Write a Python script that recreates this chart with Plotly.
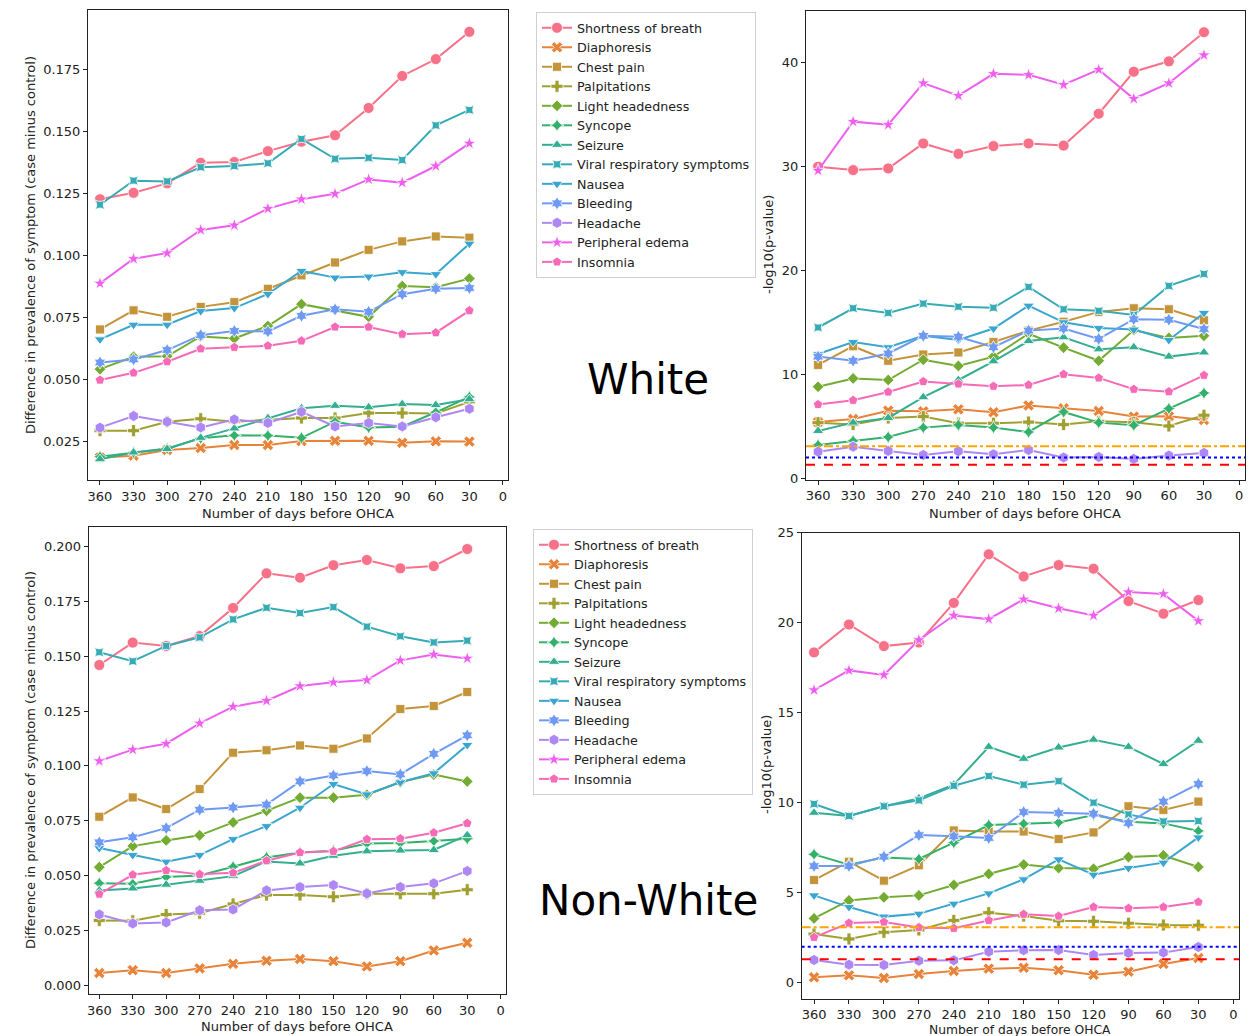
import plotly.graph_objects as go

# Days before the event (x axis)
days = [360, 330, 300, 270, 240, 210, 180, 150, 120, 90, 60, 30]
x_ticks = [360, 330, 300, 270, 240, 210, 180, 150, 120, 90, 60, 30, 0]

symptoms = ["Shortness of breath", "Diaphoresis", "Chest pain", "Palpitations",
            "Light headedness", "Syncope", "Seizure", "Viral respiratory symptoms",
            "Nausea", "Bleeding", "Headache", "Peripheral edema", "Insomnia"]

# ---- White: difference in prevalence (case minus control) ----
w_diff_sob = [0.1225, 0.1251, 0.1289, 0.1372, 0.1375, 0.1419, 0.1457, 0.1483, 0.1593, 0.1722, 0.1790, 0.1900]
w_diff_dia = [0.0184, 0.0191, 0.0214, 0.0222, 0.0234, 0.0234, 0.0250, 0.0251, 0.0251, 0.0243, 0.0249, 0.0248]
w_diff_chest = [0.0700, 0.0777, 0.0751, 0.0791, 0.0810, 0.0864, 0.0918, 0.0970, 0.1021, 0.1055, 0.1075, 0.1070]
w_diff_palp = [0.0292, 0.0292, 0.0328, 0.0340, 0.0328, 0.0335, 0.0343, 0.0343, 0.0363, 0.0363, 0.0361, 0.0408]
w_diff_light = [0.0540, 0.0590, 0.0592, 0.0672, 0.0664, 0.0714, 0.0802, 0.0778, 0.0751, 0.0875, 0.0870, 0.0905]
w_diff_sync = [0.0187, 0.0204, 0.0220, 0.0261, 0.0273, 0.0272, 0.0263, 0.0328, 0.0305, 0.0308, 0.0366, 0.0428]
w_diff_seiz = [0.0177, 0.0204, 0.0218, 0.0263, 0.0301, 0.0342, 0.0382, 0.0392, 0.0386, 0.0399, 0.0395, 0.0419]
w_diff_viral = [0.1203, 0.1300, 0.1297, 0.1354, 0.1359, 0.1370, 0.1468, 0.1388, 0.1392, 0.1383, 0.1523, 0.1585]
w_diff_naus = [0.0660, 0.0719, 0.0719, 0.0774, 0.0786, 0.0843, 0.0936, 0.0909, 0.0913, 0.0931, 0.0923, 0.1046]
w_diff_bleed = [0.0567, 0.0579, 0.0617, 0.0677, 0.0694, 0.0692, 0.0755, 0.0781, 0.0771, 0.0842, 0.0864, 0.0867]
w_diff_head = [0.0304, 0.0351, 0.0328, 0.0305, 0.0337, 0.0323, 0.0368, 0.0309, 0.0323, 0.0309, 0.0346, 0.0380]
w_diff_edema = [0.0886, 0.0985, 0.1008, 0.1101, 0.1120, 0.1187, 0.1225, 0.1247, 0.1305, 0.1292, 0.1359, 0.1450]
w_diff_insom = [0.0496, 0.0525, 0.0570, 0.0622, 0.0628, 0.0634, 0.0654, 0.0710, 0.0710, 0.0681, 0.0687, 0.0776]

# ---- White: -log10(p-value) ----
w_p_sob = [29.96, 29.64, 29.8, 32.2, 31.2, 31.95, 32.2, 32.0, 35.06, 39.1, 40.1, 42.9]
w_p_dia = [5.4, 5.7, 6.5, 6.44, 6.63, 6.35, 7.0, 6.73, 6.47, 5.93, 5.96, 5.6]
w_p_chest = [10.9, 12.7, 11.3, 11.9, 12.1, 13.1, 14.2, 15.06, 16.0, 16.35, 16.25, 15.2]
w_p_palp = [5.35, 5.16, 5.8, 5.93, 5.3, 5.29, 5.4, 5.16, 5.48, 5.38, 5.03, 6.06]
w_p_light = [8.8, 9.6, 9.45, 11.4, 10.8, 11.7, 13.9, 12.56, 11.3, 14.26, 13.5, 13.7]
w_p_sync = [3.2, 3.6, 3.97, 4.87, 5.13, 4.87, 4.45, 6.38, 5.35, 5.1, 6.7, 8.2]
w_p_seiz = [4.55, 5.35, 5.8, 7.8, 9.45, 11.25, 13.2, 13.56, 12.4, 12.6, 11.7, 12.1]
w_p_viral = [14.5, 16.35, 15.9, 16.8, 16.5, 16.4, 18.4, 16.25, 16.1, 15.7, 18.5, 19.65]
w_p_naus = [11.95, 13.1, 12.6, 13.7, 13.3, 14.4, 16.6, 15.0, 14.45, 14.3, 13.3, 15.9]
w_p_bleed = [11.7, 11.3, 12.0, 13.7, 13.6, 12.6, 14.2, 14.4, 13.4, 15.3, 15.25, 14.35]
w_p_head = [2.56, 3.04, 2.63, 2.24, 2.6, 2.3, 2.72, 1.99, 2.05, 1.86, 2.18, 2.44]
w_p_edema = [29.6, 34.3, 34.0, 38.0, 36.8, 38.9, 38.8, 37.85, 39.3, 36.5, 38.0, 40.7]
w_p_insom = [7.1, 7.5, 8.3, 9.3, 9.07, 8.85, 8.97, 10.0, 9.65, 8.56, 8.33, 9.9]

# ---- Non-White: difference in prevalence (case minus control) ----
n_diff_sob = [0.1460, 0.1562, 0.1547, 0.1592, 0.1720, 0.1878, 0.1858, 0.1915, 0.1939, 0.1901, 0.1911, 0.1989]
n_diff_dia = [0.0055, 0.0068, 0.0055, 0.0076, 0.0097, 0.0111, 0.0119, 0.0109, 0.0085, 0.0109, 0.0158, 0.0193]
n_diff_chest = [0.0768, 0.0856, 0.0803, 0.0894, 0.1060, 0.1071, 0.1093, 0.1078, 0.1125, 0.1259, 0.1273, 0.1337]
n_diff_palp = [0.0295, 0.0293, 0.0322, 0.0328, 0.0370, 0.0411, 0.0411, 0.0403, 0.0417, 0.0417, 0.0417, 0.0435]
n_diff_light = [0.0538, 0.0634, 0.0660, 0.0683, 0.0742, 0.0795, 0.0855, 0.0855, 0.0868, 0.0926, 0.0960, 0.0929]
n_diff_sync = [0.0465, 0.0462, 0.0493, 0.0500, 0.0540, 0.0582, 0.0605, 0.0613, 0.0646, 0.0648, 0.0657, 0.0668]
n_diff_seiz = [0.0432, 0.0441, 0.0458, 0.0476, 0.0497, 0.0564, 0.0555, 0.0590, 0.0610, 0.0614, 0.0616, 0.0684]
n_diff_viral = [0.1518, 0.1477, 0.1547, 0.1586, 0.1668, 0.1721, 0.1697, 0.1724, 0.1635, 0.1591, 0.1563, 0.1571]
n_diff_naus = [0.0625, 0.0593, 0.0563, 0.0593, 0.0666, 0.0725, 0.0809, 0.0917, 0.0870, 0.0925, 0.0966, 0.1095]
n_diff_bleed = [0.0651, 0.0674, 0.0716, 0.0800, 0.0810, 0.0823, 0.0929, 0.0956, 0.0976, 0.0961, 0.1055, 0.1139]
n_diff_head = [0.0322, 0.0281, 0.0286, 0.0341, 0.0345, 0.0432, 0.0447, 0.0456, 0.0418, 0.0447, 0.0464, 0.0520]
n_diff_edema = [0.1022, 0.1074, 0.1101, 0.1194, 0.1270, 0.1297, 0.1364, 0.1381, 0.1391, 0.1481, 0.1508, 0.1490]
n_diff_insom = [0.0415, 0.0503, 0.0523, 0.0505, 0.0512, 0.0567, 0.0605, 0.0610, 0.0665, 0.0668, 0.0695, 0.0738]

# ---- Non-White: -log10(p-value) ----
n_p_sob = [18.35, 19.9, 18.7, 18.9, 21.1, 23.8, 22.57, 23.2, 23.0, 21.2, 20.5, 21.26]
n_p_dia = [0.3, 0.41, 0.26, 0.48, 0.65, 0.78, 0.83, 0.69, 0.44, 0.61, 1.04, 1.37]
n_p_chest = [5.7, 6.72, 5.67, 6.52, 8.46, 8.4, 8.4, 7.98, 8.35, 9.8, 9.6, 10.06]
n_p_palp = [2.7, 2.43, 2.8, 2.93, 3.46, 3.89, 3.7, 3.44, 3.41, 3.3, 3.2, 3.19]
n_p_light = [3.57, 4.57, 4.74, 4.85, 5.43, 6.04, 6.56, 6.37, 6.33, 6.98, 7.07, 6.43]
n_p_sync = [7.13, 6.56, 6.96, 6.87, 7.78, 8.76, 8.83, 8.9, 9.31, 8.94, 8.85, 8.43]
n_p_seiz = [9.44, 9.26, 9.8, 10.24, 11.0, 13.1, 12.44, 13.07, 13.5, 13.1, 12.15, 13.44]
n_p_viral = [9.93, 9.26, 9.8, 10.13, 10.94, 11.48, 11.0, 11.2, 10.0, 9.35, 8.96, 8.98]
n_p_naus = [4.85, 4.2, 3.67, 3.83, 4.39, 4.96, 5.74, 6.85, 6.0, 6.37, 6.67, 8.07]
n_p_bleed = [6.48, 6.48, 7.0, 8.2, 8.13, 8.04, 9.48, 9.43, 9.39, 8.87, 10.06, 11.04]
n_p_head = [1.26, 1.0, 0.98, 1.22, 1.24, 1.72, 1.8, 1.81, 1.54, 1.65, 1.67, 1.98]
n_p_edema = [16.26, 17.35, 17.1, 19.04, 20.4, 20.2, 21.3, 20.8, 20.4, 21.7, 21.6, 20.1]
n_p_insom = [2.52, 3.31, 3.37, 3.07, 3.02, 3.46, 3.8, 3.7, 4.2, 4.13, 4.2, 4.48]

# Significance thresholds on the -log10(p) panels
sig_levels = [1.301, 2.0, 3.08]

white_diff = [w_diff_sob, w_diff_dia, w_diff_chest, w_diff_palp, w_diff_light, w_diff_sync,
              w_diff_seiz, w_diff_viral, w_diff_naus, w_diff_bleed, w_diff_head, w_diff_edema, w_diff_insom]
white_p = [w_p_sob, w_p_dia, w_p_chest, w_p_palp, w_p_light, w_p_sync,
           w_p_seiz, w_p_viral, w_p_naus, w_p_bleed, w_p_head, w_p_edema, w_p_insom]
nonwhite_diff = [n_diff_sob, n_diff_dia, n_diff_chest, n_diff_palp, n_diff_light, n_diff_sync,
                 n_diff_seiz, n_diff_viral, n_diff_naus, n_diff_bleed, n_diff_head, n_diff_edema, n_diff_insom]
nonwhite_p = [n_p_sob, n_p_dia, n_p_chest, n_p_palp, n_p_light, n_p_sync,
              n_p_seiz, n_p_viral, n_p_naus, n_p_bleed, n_p_head, n_p_edema, n_p_insom]

colors = ["#f77189", "#e8833a", "#c3943a", "#a0a032", "#74ab32", "#33b16c", "#34ae91",
          "#37abb5", "#3aa6cf", "#6e9af4", "#ad88f4", "#ee5ff0", "#f66ab6"]
symbols = ["circle", "x", "square", "cross", "diamond", "star-diamond", "triangle-up",
           "star-square", "triangle-down", "hexagram", "hexagon", "star", "pentagon"]
sizes = [11, 10, 9, 10, 9, 10, 10, 9, 10, 10, 11, 10, 10]

FONT = "DejaVu Sans"
W, H = 1248, 1036

fig = go.Figure()

panels = [
    ("x", "y", white_diff, "legend", True),
    ("x2", "y2", white_p, "legend", False),
    ("x3", "y3", nonwhite_diff, "legend2", True),
    ("x4", "y4", nonwhite_p, "legend2", False),
]
for xa, ya, series, leg, show in panels:
    for i, name in enumerate(symptoms):
        fig.add_trace(go.Scatter(
            x=days, y=series[i], name=name, mode="lines+markers",
            xaxis=xa, yaxis=ya, legend=leg, showlegend=show,
            line=dict(color=colors[i], width=2),
            marker=dict(symbol=symbols[i], size=sizes[i], color=colors[i],
                        line=dict(color="white", width=0.8)),
        ))

def px_dom_x(a, b):
    return [a / W, b / W]

def px_dom_y(top, bottom):
    return [1 - bottom / H, 1 - top / H]

axis_common = dict(showline=True, linecolor="#222", linewidth=1, mirror=True,
                   ticks="outside", ticklen=4, tickcolor="#222", showgrid=False,
                   zeroline=False, automargin=False,
                   tickfont=dict(family=FONT, size=13, color="#222"))

xaxis_common = dict(axis_common, tickvals=x_ticks, ticktext=[str(t) for t in x_ticks])

legend_common = dict(xanchor="left", yanchor="top", bgcolor="white",
                     bordercolor="#d0d0d0", borderwidth=1, itemwidth=30,
                     font=dict(family=FONT, size=12.7, color="#222"))

fig.update_layout(
    width=W, height=H, autosize=False,
    margin=dict(l=0, r=0, t=0, b=0, autoexpand=False),
    paper_bgcolor="white", plot_bgcolor="white",
    font=dict(family=FONT, size=13, color="#222"),
    xaxis=dict(xaxis_common, domain=px_dom_x(88, 508), range=[370.7, -4.5], anchor="y"),
    yaxis=dict(axis_common, domain=px_dom_y(10, 480), range=[0.0093, 0.1988],
               tickvals=[0.025, 0.05, 0.075, 0.1, 0.125, 0.15, 0.175], tickformat=".3f", anchor="x"),
    xaxis2=dict(xaxis_common, domain=px_dom_x(806, 1245), range=[370.3, -5.1], anchor="y2"),
    yaxis2=dict(axis_common, domain=px_dom_y(10.7, 479.5), range=[-0.12, 44.97],
                tickvals=[0, 10, 20, 30, 40], anchor="x2"),
    xaxis3=dict(xaxis_common, domain=px_dom_x(88.7, 505.7), range=[369.5, -4.5], anchor="y3"),
    yaxis3=dict(axis_common, domain=px_dom_y(527.3, 994.3), range=[-0.0042, 0.2088],
                tickvals=[0, 0.025, 0.05, 0.075, 0.1, 0.125, 0.15, 0.175, 0.2],
                tickformat=".3f", anchor="x3"),
    xaxis4=dict(xaxis_common, domain=px_dom_x(801.7, 1239), range=[370.6, -4.9], anchor="y4"),
    yaxis4=dict(axis_common, domain=px_dom_y(532.7, 998.7), range=[-0.89, 25],
                tickvals=[0, 5, 10, 15, 20, 25], anchor="x4"),
    legend=dict(legend_common, x=536 / W, y=1 - 12 / H),
    legend2=dict(legend_common, x=533 / W, y=1 - 529 / H),
)

# Significance threshold lines across the p-value panels
line_styles = [("#ff0000", "dash"), ("#0000ff", "dot"), ("#ffa500", "dashdot")]
for xa, ya in [("x2", "y2"), ("x4", "y4")]:
    for level, (col, dash) in zip(sig_levels, line_styles):
        fig.add_shape(type="line", xref=f"{xa} domain", yref=ya, x0=0, x1=1,
                      y0=level, y1=level, line=dict(color=col, width=2, dash=dash))

def label(text, cx, cy, size=13, angle=0, color="#222"):
    return dict(text=text, x=cx / W, y=1 - cy / H, xref="paper", yref="paper",
                xanchor="center", yanchor="middle", textangle=angle, showarrow=False,
                font=dict(family=FONT, size=size, color=color))

annotations = [
    label("White", 648, 380, size=42, color="black"),
    label("Non-White", 648, 900, size=42, color="black"),
]
for cx, cy in [(298, 513), (1025, 513), (297, 1026)]:
    annotations.append(label("Number of days before OHCA", cx, cy))
annotations.append(label("Number of days before OHCA", 1020, 1029.5, size=12.3))
for cx, cy in [(30, 245), (30, 760)]:
    annotations.append(label("Difference in prevalence of symptom (case minus control)", cx, cy, angle=-90))
for cx, cy in [(768, 245), (766, 765)]:
    annotations.append(label("-log10(p-value)", cx, cy, angle=-90))
fig.update_layout(annotations=annotations)

fig.write_html("out.html")
